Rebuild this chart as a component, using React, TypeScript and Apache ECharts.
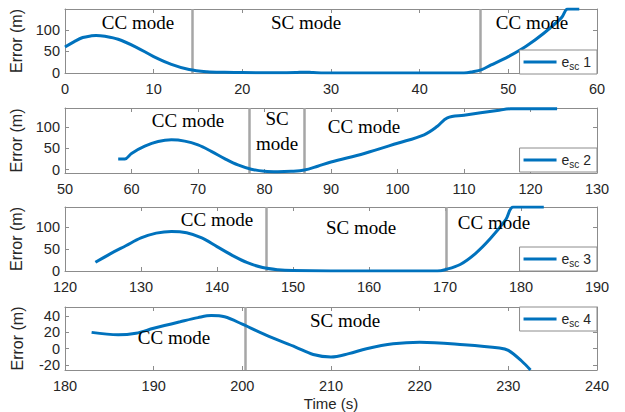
import React, { useEffect, useRef } from "react";
import * as echarts from "echarts";

// Subplot 1
const t1 = [0, 1, 2, 3, 3.5, 4.5, 6, 8, 10, 12, 14, 16, 18, 20, 24, 26, 27, 28, 30, 35, 40, 45, 46, 47, 48, 50, 52, 54, 56, 56.7, 58];
const e1 = [60, 72, 82, 86, 87, 85, 78, 60, 38, 20, 8, 3, 1.5, 1, 0.5, 1, 2, 1, 0, 0, 0, 0, 3, 8, 18, 38, 62, 92, 128, 148, 148];
// Subplot 2
const t2 = [58, 59, 60, 62, 64, 66, 68, 70, 72, 74, 76, 78, 80, 82, 84, 86, 88, 90, 95, 100, 104, 106, 107.5, 110, 115, 117, 124];
const e2 = [25, 25, 38, 55, 66, 70, 67, 58, 43, 26, 11, 1, -4, -5, -4, -1, 8, 18, 38, 62, 82, 102, 122, 128, 139, 143, 143];
// Subplot 3
const t3 = [124, 126, 128, 130, 132, 134, 136, 138, 140, 142, 144, 146, 148, 150, 155, 160, 169, 170, 172, 174, 176, 178, 179, 183];
const e3 = [20, 40, 58, 76, 87, 91, 88, 76, 56, 36, 19, 8, 3, 1, 0, 0, 0, 3, 15, 40, 75, 118, 147, 147];
// Subplot 4
const t4 = [183, 186, 188, 190, 193, 195, 196.5, 198, 200, 203, 206, 208, 210, 212, 214, 217, 220, 225, 229, 230, 231.5, 232.5];
const e4 = [20, 17, 19, 25, 33, 38, 40.5, 39, 30, 15, 2, -7, -10, -6, 0, 6, 8, 5, 1, -2, -15, -26];

const xRanges = [[0, 60], [50, 130], [120, 190], [180, 240]];
const yRanges = [[0, 148], [-8, 145], [0, 147], [-26, 51]];
const yTicks = [[0, 50, 100], [0, 50, 100], [0, 50, 100], [-20, 0, 20, 40]];
const modeLines = [[14.3, 46.8], [77.7, 86], [146.5, 170.2], [200.3]];
const seriesNames = ["1", "2", "3", "4"];

const grids = [
  { top: 9, height: 64 },
  { top: 108, height: 65 },
  { top: 207, height: 64 },
  { top: 307, height: 71 },
];

const modeTexts = [
  { t: "CC mode", x: 138, y: 22 },
  { t: "SC mode", x: 306, y: 22 },
  { t: "CC mode", x: 532, y: 22 },
  { t: "CC mode", x: 188, y: 120 },
  { t: "SC", x: 277, y: 118 },
  { t: "mode", x: 277, y: 143 },
  { t: "CC mode", x: 364, y: 126 },
  { t: "CC mode", x: 217, y: 219 },
  { t: "SC mode", x: 361, y: 227 },
  { t: "CC mode", x: 494, y: 222 },
  { t: "CC mode", x: 174, y: 337 },
  { t: "SC mode", x: 345, y: 320 },
];

const legendTops = [50, 148, 247, 307];

const AXIS = "#8c8c8c";
const LABEL = "#262626";
const SANS = "Liberation Sans, Arial, sans-serif";
const SERIF = "Liberation Serif, Times New Roman, serif";

export default function App() {
  const ref = useRef<HTMLDivElement>(null);
  useEffect(() => {
    if (!ref.current) return;
    const chart = echarts.init(ref.current, undefined, { renderer: "svg" });
    const data = [
      t1.map((t, i) => [t, e1[i]]),
      t2.map((t, i) => [t, e2[i]]),
      t3.map((t, i) => [t, e3[i]]),
      t4.map((t, i) => [t, e4[i]]),
    ];
    const xAxis: any[] = [];
    const yAxis: any[] = [];
    grids.forEach((_, i) => {
      xAxis.push({
        type: "value",
        gridIndex: i,
        min: xRanges[i][0],
        max: xRanges[i][1],
        interval: 10,
        position: "bottom",
        axisLine: { show: true, onZero: false, lineStyle: { color: AXIS, width: 1 } },
        axisTick: { show: true, inside: true, length: 4, lineStyle: { color: AXIS } },
        axisLabel: { show: true, color: LABEL, fontSize: 14.5, fontFamily: SANS, margin: 8 },
        splitLine: { show: false },
        name: i === 3 ? "Time (s)" : "",
        nameLocation: "middle",
        nameGap: 26,
        nameTextStyle: { color: LABEL, fontSize: 15, fontFamily: SANS },
      });
      yAxis.push({
        type: "value",
        gridIndex: i,
        min: yRanges[i][0],
        max: yRanges[i][1],
        position: "left",
        axisLine: { show: true, onZero: false, lineStyle: { color: AXIS, width: 1 } },
        axisTick: { show: true, inside: true, length: 4, customValues: yTicks[i], lineStyle: { color: AXIS } },
        axisLabel: { show: true, color: LABEL, fontSize: 14.5, fontFamily: SANS, margin: 5, customValues: yTicks[i] },
        splitLine: { show: false },
        name: "Error (m)",
        nameLocation: "middle",
        nameGap: 40,
        nameTextStyle: { color: LABEL, fontSize: 16, fontFamily: SANS },
      });
    });
    grids.forEach((_, i) => {
      xAxis.push({
        type: "value",
        gridIndex: i,
        min: xRanges[i][0],
        max: xRanges[i][1],
        interval: 10,
        position: "top",
        axisLine: { show: true, onZero: false, lineStyle: { color: AXIS, width: 1 } },
        axisTick: { show: true, inside: true, length: 4, lineStyle: { color: AXIS } },
        axisLabel: { show: false },
        splitLine: { show: false },
      });
      yAxis.push({
        type: "value",
        gridIndex: i,
        min: yRanges[i][0],
        max: yRanges[i][1],
        position: "right",
        axisLine: { show: true, onZero: false, lineStyle: { color: AXIS, width: 1 } },
        axisTick: { show: true, inside: true, length: 4, customValues: yTicks[i], lineStyle: { color: AXIS } },
        axisLabel: { show: false },
        splitLine: { show: false },
      });
    });

    const series = data.map((d, i) => ({
      name: "esc" + seriesNames[i],
      type: "line",
      xAxisIndex: i,
      yAxisIndex: i,
      data: d,
      smooth: 0.35,
      symbol: "none",
      lineStyle: { color: "#0072BD", width: 3 },
      itemStyle: { color: "#0072BD" },
      z: 3,
      markLine: {
        silent: true,
        symbol: "none",
        label: { show: false },
        lineStyle: { color: "#a6a6a6", width: 2.5, type: "solid" },
        data: modeLines[i].map((v) => ({ xAxis: v })),
        z: 2,
      },
    }));

    const legend = seriesNames.map((n, i) => ({
      data: ["esc" + n],
      right: 28,
      top: legendTops[i],
      orient: "vertical",
      icon: "rect",
      itemWidth: 33,
      itemHeight: 3,
      itemGap: 0,
      padding: [3, 6, 3, 4],
      borderColor: "#8c8c8c",
      borderWidth: 1,
      backgroundColor: "#ffffff",
      formatter: () => `{a|e}{s|sc}{a| ${n}}`,
      textStyle: {
        rich: {
          a: { fontSize: 14, fontFamily: SANS, color: LABEL, lineHeight: 20 },
          s: { fontSize: 10, fontFamily: SANS, color: LABEL, padding: [8, 0, 0, 0], lineHeight: 20 },
        },
      },
    }));

    const graphic = modeTexts.map((m) => ({
      type: "text",
      x: m.x,
      y: m.y,
      z: 10,
      style: {
        text: m.t,
        fill: "#000000",
        fontSize: 19,
        fontFamily: SERIF,
        textAlign: "center",
        textVerticalAlign: "middle",
      },
    }));

    chart.setOption({
      animation: false,
      backgroundColor: "#ffffff",
      grid: grids.map((g) => ({ left: 65, right: 28, top: g.top, height: g.height, containLabel: false })),
      xAxis,
      yAxis,
      legend,
      series,
      graphic,
    });
    return () => chart.dispose();
  }, []);
  return <div ref={ref} style={{ position: "fixed", left: 0, top: 0, width: 625, height: 412 }} />;
}
